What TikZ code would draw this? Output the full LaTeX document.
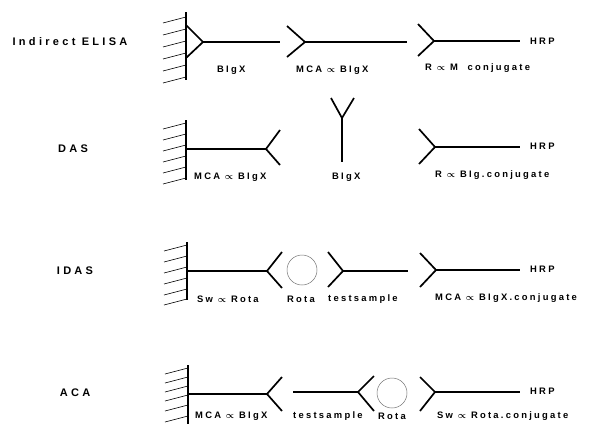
\documentclass[tikz,border=0pt]{standalone}
\usepackage{fontspec}
\newfontfamily\lbl[LetterSpace=30,BoldFont={Liberation Sans Bold}]{Liberation Sans}
\newfontfamily\lbs[LetterSpace=24,BoldFont={Liberation Sans Bold}]{Liberation Sans}
\usepackage{amsmath,bm}
\newcommand{\anti}{\ {\normalfont$\boldsymbol{\propto}$}\ }
\begin{document}
\begin{tikzpicture}[x=1pt,y=-1pt,
  ab/.style={line width=1.7pt, line join=miter},
  wallline/.style={line width=1.7pt},
  hatchline/.style={line width=0.6pt},
  ring/.style={draw=black!55,line width=0.5pt},
  lab/.style={font=\lbs\bfseries\fontsize{9.4}{11}\selectfont, inner sep=0pt, anchor=west},
  rowlab/.style={font=\lbl\bfseries\fontsize{11}{12}\selectfont, inner sep=0pt},
]
\useasboundingbox (0,0) rectangle (589,424);

% ---------- Row 1: Indirect ELISA ----------
\node[rowlab] (r1) at (70,42) {Indirect ELISA};
\draw[wallline] (186,12) -- (186,80);
\foreach \h in {17,29,41,53,65,77} \draw[hatchline] (186,\h) -- ++(-23,6);
\coordinate (a1) at (203,42);
\draw[ab] (186,25) -- (a1) -- (186,58);
\draw[ab] (a1) -- (280,42);
\node[lab] (t11) at (217,70) {BIgX};
\coordinate (a2) at (305,42);
\draw[ab] (287,26) -- (a2) -- (287,57);
\draw[ab] (a2) -- (407,42);
\node[lab] (t12) at (296,70) {MCA\anti BIgX};
\coordinate (a3) at (434,41);
\draw[ab] (418,24) -- (a3) -- (418,56);
\draw[ab] (a3) -- (520,41);
\node[lab] (h1) at (530,41) {HRP};
\node[lab] (t13) at (425,68) {R\anti M\ \ conjugate};

% ---------- Row 2: DAS ----------
\node[rowlab] (r2) at (73,149) {DAS};
\draw[wallline] (186,120) -- (186,180);
\foreach \h in {123,134,145,156,167,178} \draw[hatchline] (186,\h) -- ++(-23,6);
\coordinate (b1) at (266,149);
\draw[ab] (186,149) -- (b1);
\draw[ab] (280,130) -- (b1) -- (280,165);
\node[lab] (t21) at (194,177) {MCA\anti BIgX};
\coordinate (b2) at (342,118);
\draw[ab] (331,98) -- (b2) -- (354,98);
\draw[ab] (b2) -- (342,162);
\node[lab] (t22) at (332,177) {BIgX};
\coordinate (b3) at (435,147);
\draw[ab] (419,129) -- (b3) -- (419,164);
\draw[ab] (b3) -- (520,147);
\node[lab] (h2) at (530,146) {HRP};
\node[lab] (t23) at (435,175) {R\anti BIg.conjugate};

% ---------- Row 3: IDAS ----------
\node[rowlab] (r3) at (75,271) {IDAS};
\draw[wallline] (187,242) -- (187,300);
\foreach \h in {245,256,267,278,289,299} \draw[hatchline] (187,\h) -- ++(-23,6);
\coordinate (c1) at (267,271);
\draw[ab] (187,271) -- (c1);
\draw[ab] (282,252) -- (c1) -- (282,288);
\node[lab] (t31) at (197,299) {Sw\anti Rota};
\node[ring, circle, minimum size=30pt, inner sep=0pt] (o3) at (302,270) {};
\node[lab] (t32) at (287,299) {Rota};
\coordinate (c2) at (343,271);
\draw[ab] (328,252) -- (c2) -- (328,287);
\draw[ab] (c2) -- (408,271);
\node[lab] (t33) at (328,299) {testsample};
\coordinate (c3) at (436,270);
\draw[ab] (420,253) -- (c3) -- (420,287);
\draw[ab] (c3) -- (520,270);
\node[lab] (h3) at (530,269) {HRP};
\node[lab] (t34) at (435,298) {MCA\anti BIgX.conjugate};

% ---------- Row 4: ACA ----------
\node[rowlab] (r4) at (75,393) {ACA};
\draw[wallline] (188,365) -- (188,424);
\foreach \h in {368,377,386,395,405,416} \draw[hatchline] (188,\h) -- ++(-23,6);
\coordinate (d1) at (267,394);
\draw[ab] (188,394) -- (d1);
\draw[ab] (282,377) -- (d1) -- (282,411);
\node[lab] (t41) at (195,416) {MCA\anti BIgX};
\coordinate (d2) at (358,392);
\draw[ab] (293,392) -- (d2);
\draw[ab] (374,376) -- (d2) -- (374,411);
\node[lab] (t42) at (293,416) {testsample};
\node[ring, circle, minimum size=30pt, inner sep=0pt] (o4) at (392,393) {};
\node[lab] (t43) at (378,416) {Rota};
\coordinate (d3) at (435,392);
\draw[ab] (420,377) -- (d3) -- (420,411);
\draw[ab] (d3) -- (520,392);
\node[lab] (h4) at (530,391) {HRP};
\node[lab] (t44) at (437,416) {Sw\anti Rota.conjugate};
\end{tikzpicture}
\end{document}
